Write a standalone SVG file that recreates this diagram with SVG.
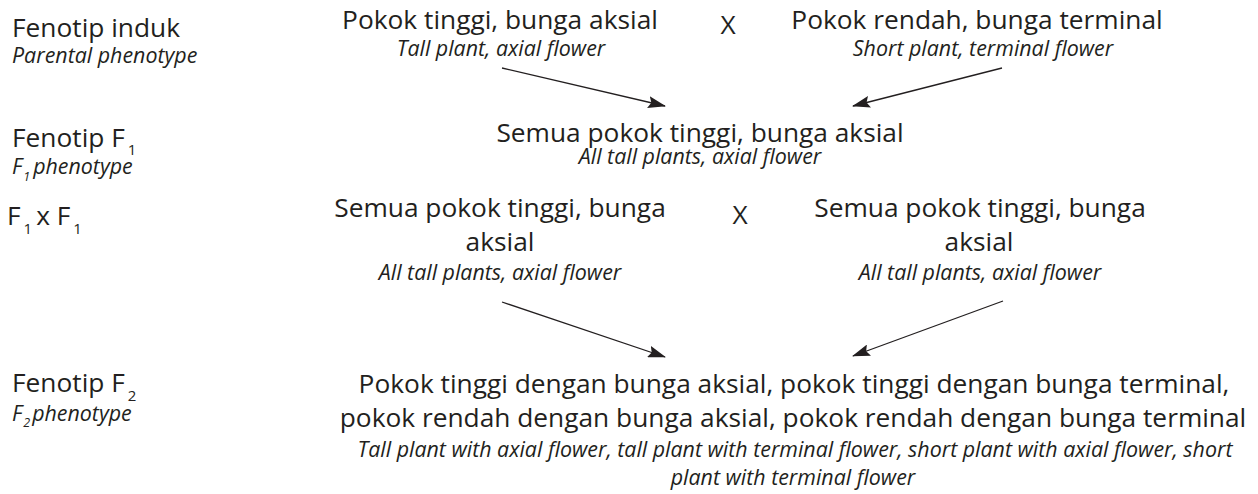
<svg xmlns="http://www.w3.org/2000/svg" width="1258" height="494" viewBox="0 0 1258 494">
<style>
text{font-family:"Open Sans","Noto Sans",sans-serif;fill:#231f20}
.r{font-size:26.3px}
.i{font-size:21.4px;font-style:italic}
.m{text-anchor:middle}
.sub{font-size:15px}
.si{font-size:12.5px}
.c{stroke:#231f20;stroke-width:1.3;fill:none;marker-end:url(#ah)}
</style>
<defs>
<marker id="ah" viewBox="0 0 18 12" refX="17" refY="6" markerWidth="18" markerHeight="12" markerUnits="userSpaceOnUse" orient="auto">
<path d="M0,0 L18,6 L0,12 L3,6 Z" fill="#231f20"/>
</marker>
</defs>
<rect width="1258" height="494" fill="#fff"/>
<g id="labels">
<g id="lbl-parent"><text class="r" x="12" y="37">Fenotip induk</text><text class="i" x="12" y="63">Parental phenotype</text></g>
<g id="lbl-f1"><text class="r" x="12" y="147">Fenotip F<tspan class="sub" dx="3" dy="8">1</tspan></text><text class="i" x="12" y="174">F<tspan class="si" dx="1" dy="7">1</tspan><tspan dx="3" dy="-7">phenotype</tspan></text></g>
<g id="lbl-f1xf1"><text class="r" x="7" y="225">F<tspan class="sub" dx="3" dy="9">1</tspan><tspan dx="4" dy="-9">x F</tspan><tspan class="sub" dx="3" dy="9">1</tspan></text></g>
<g id="lbl-f2"><text class="r" x="12" y="392">Fenotip F<tspan class="sub" dx="3" dy="9">2</tspan></text><text class="i" x="12" y="421">F<tspan class="si" dx="1" dy="6">2</tspan><tspan dx="2" dy="-6">phenotype</tspan></text></g>
</g>
<g id="p1"><text class="r m" x="500" y="29">Pokok tinggi, bunga aksial</text><text class="i m" x="501" y="56">Tall plant, axial flower</text></g>
<g id="x1"><text class="r m" x="728" y="34">X</text></g>
<g id="p2"><text class="r m" x="977" y="29">Pokok rendah, bunga terminal</text><text class="i m" x="983" y="56">Short plant, terminal flower</text></g>
<g id="f1"><text class="r m" x="700" y="142">Semua pokok tinggi, bunga aksial</text><text class="i m" x="700" y="164">All tall plants, axial flower</text></g>
<g id="f1a"><text class="r m" x="500" y="217">Semua pokok tinggi, bunga</text><text class="r m" x="500" y="251">aksial</text><text class="i m" x="500" y="280">All tall plants, axial flower</text></g>
<g id="x2"><text class="r m" x="740" y="224">X</text></g>
<g id="f1b"><text class="r m" x="980" y="217">Semua pokok tinggi, bunga</text><text class="r m" x="979" y="251">aksial</text><text class="i m" x="980" y="280">All tall plants, axial flower</text></g>
<g id="f2"><text class="r m" x="794" y="393">Pokok tinggi dengan bunga aksial, pokok tinggi dengan bunga terminal,</text><text class="r m" x="793" y="427">pokok rendah dengan bunga aksial, pokok rendah dengan bunga terminal</text><text class="i m" x="795" y="457">Tall plant with axial flower, tall plant with terminal flower, short plant with axial flower, short</text><text class="i m" x="793" y="485">plant with terminal flower</text></g>
<g id="connectors">
<line class="c" x1="502" y1="68" x2="665" y2="106"/>
<line class="c" x1="1002" y1="68" x2="853" y2="106"/>
<line class="c" x1="502" y1="302" x2="665" y2="357"/>
<line class="c" x1="1003" y1="301" x2="853" y2="356"/>
</g>
</svg>
